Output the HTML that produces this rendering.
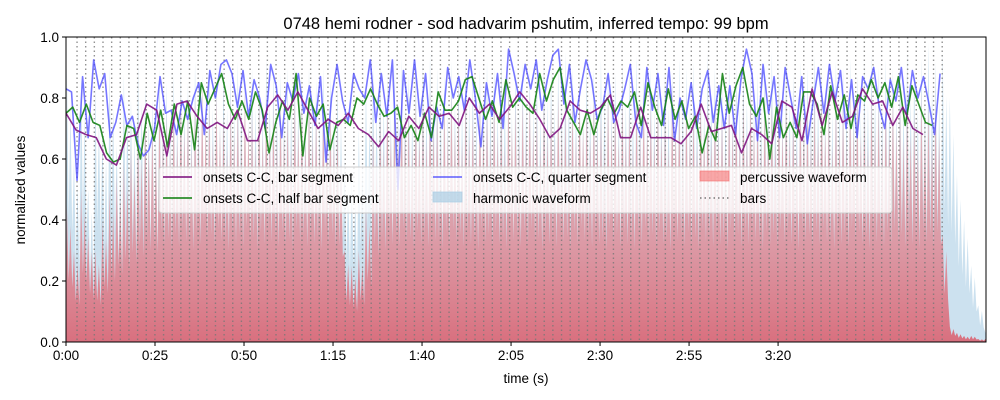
<!DOCTYPE html>
<html><head><meta charset="utf-8"><style>
body{margin:0;background:#fff;}
svg{display:block;font-family:"Liberation Sans","DejaVu Sans",sans-serif;}
</style></head><body>
<svg id="chart" width="1000" height="400" viewBox="0 0 1000 400">
<defs>
<linearGradient id="redgrad" x1="0" y1="0" x2="0" y2="1">
<stop offset="0" stop-color="rgb(248,140,140)" stop-opacity="0.45"/>
<stop offset="0.6" stop-color="rgb(230,110,120)" stop-opacity="0.6"/>
<stop offset="1" stop-color="rgb(220,80,95)" stop-opacity="0.78"/>
</linearGradient>
<clipPath id="plotclip"><rect x="66" y="37" width="920" height="305"/></clipPath>
</defs>
<text x="526" y="29" text-anchor="middle" font-size="16.5" fill="#000">0748 hemi rodner - sod hadvarim pshutim, inferred tempo: 99 bpm</text>
<g id="plot" clip-path="url(#plotclip)"></g>
<g id="axes"></g>
</svg>
<script>
const harmPeaks=[0.9,0.6,0.88,0.5,0.85,0.7,0.9,0.65,0.88,0.8,0.92,0.85,0.8,0.9,0.85,0.88,0.9,0.85,0.92,0.88,0.9,0.86,0.9,0.88,0.92,0.85,0.9,0.88,0.93,0.9,0.88,0.9,0.92,0.88,0.9,0.86,0.9,0.88,0.85,0.6,0.55,0.7,0.85,0.9,0.92,0.88,0.9,0.93,0.88,0.9,0.92,0.95,0.9,0.88,0.92,0.9,0.93,0.88,0.9,0.92,0.9,0.94,0.88,0.9,0.92,0.9,0.88,0.93,0.9,0.92,0.95,0.9,0.88,0.92,0.9,0.93,0.9,0.88,0.92,0.9,0.94,0.88,0.9,0.92,0.9,0.88,0.93,0.9,0.92,0.9,0.95,0.9,0.88,0.92,0.9,0.93,0.9,0.88,0.92,0.95,0.9,0.93,0.88,0.92,0.9,0.94,0.9,0.88,0.92,0.9,0.93,0.88,0.92,0.95,0.9,0.93,0.9,0.92,0.95,0.9,0.93,0.98,0.92,0.95,0.8,0.55,0.4,0.25,0.12,0.03];
const percPeaks=[0.45,0.3,0.5,0.35,0.3,0.4,0.5,0.55,0.6,0.65,0.7,0.75,0.72,0.8,0.75,0.78,0.82,0.75,0.8,0.85,0.78,0.82,0.75,0.8,0.78,0.83,0.76,0.8,0.82,0.78,0.8,0.75,0.82,0.78,0.8,0.76,0.8,0.78,0.7,0.3,0.25,0.3,0.45,0.7,0.75,0.8,0.78,0.82,0.75,0.8,0.78,0.83,0.76,0.8,0.82,0.78,0.8,0.75,0.82,0.78,0.8,0.76,0.83,0.78,0.8,0.82,0.75,0.8,0.78,0.82,0.76,0.8,0.83,0.78,0.8,0.75,0.82,0.78,0.8,0.76,0.8,0.82,0.78,0.8,0.75,0.83,0.78,0.8,0.76,0.82,0.78,0.8,0.75,0.82,0.78,0.8,0.83,0.76,0.8,0.78,0.82,0.8,0.75,0.83,0.78,0.8,0.82,0.76,0.8,0.78,0.83,0.8,0.76,0.82,0.78,0.8,0.82,0.78,0.8,0.76,0.82,0.78,0.8,0.35,0.05,0.03,0.02,0.02,0.01,0.01];
const barStart=3.1, barPeriod=2.43, barCount=101;
const purpleVals=[0.75,0.695,0.68,0.67,0.60,0.58,0.67,0.68,0.78,0.76,0.61,0.78,0.79,0.74,0.70,0.72,0.70,0.76,0.66,0.66,0.77,0.81,0.76,0.82,0.76,0.70,0.73,0.71,0.75,0.70,0.68,0.64,0.69,0.66,0.74,0.70,0.77,0.74,0.75,0.71,0.80,0.75,0.78,0.73,0.77,0.82,0.78,0.73,0.67,0.70,0.79,0.76,0.75,0.77,0.81,0.67,0.67,0.77,0.67,0.67,0.67,0.65,0.69,0.78,0.69,0.70,0.71,0.62,0.70,0.68,0.65,0.79,0.77,0.66,0.83,0.71,0.82,0.72,0.74,0.83,0.78,0.79,0.71,0.77,0.70,0.68];
const purpleSpan=[0,240.7];
const greenVals=[0.75,0.77,0.72,0.78,0.72,0.71,0.62,0.59,0.60,0.71,0.70,0.60,0.75,0.66,0.76,0.64,0.78,0.68,0.79,0.63,0.85,0.78,0.83,0.88,0.78,0.73,0.79,0.73,0.82,0.76,0.62,0.72,0.79,0.73,0.88,0.61,0.80,0.74,0.78,0.63,0.72,0.73,0.71,0.80,0.78,0.83,0.78,0.74,0.75,0.77,0.67,0.71,0.66,0.75,0.67,0.82,0.76,0.76,0.79,0.86,0.87,0.80,0.73,0.79,0.72,0.86,0.77,0.80,0.77,0.75,0.88,0.79,0.86,0.90,0.76,0.72,0.68,0.76,0.68,0.76,0.80,0.75,0.79,0.77,0.82,0.71,0.85,0.77,0.71,0.83,0.73,0.79,0.70,0.74,0.62,0.71,0.66,0.88,0.75,0.84,0.90,0.78,0.74,0.80,0.60,0.77,0.67,0.72,0.67,0.82,0.82,0.78,0.68,0.84,0.73,0.81,0.70,0.81,0.79,0.86,0.80,0.85,0.77,0.87,0.71,0.84,0.78,0.72,0.71];
const greenSpan=[0,243.3];
const blueVals=[0.83,0.82,0.53,0.87,0.67,0.925,0.83,0.88,0.67,0.72,0.81,0.71,0.74,0.65,0.61,0.63,0.70,0.87,0.75,0.76,0.68,0.79,0.73,0.80,0.85,0.68,0.89,0.80,0.91,0.925,0.88,0.77,0.89,0.74,0.86,0.80,0.70,0.91,0.84,0.67,0.85,0.79,0.88,0.75,0.84,0.71,0.87,0.59,0.80,0.91,0.79,0.72,0.88,0.83,0.80,0.925,0.72,0.88,0.74,0.925,0.50,0.89,0.75,0.925,0.74,0.88,0.66,0.77,0.70,0.90,0.80,0.87,0.76,0.925,0.80,0.64,0.85,0.74,0.88,0.70,0.96,0.88,0.79,0.91,0.83,0.925,0.76,0.86,0.94,0.96,0.78,0.91,0.72,0.83,0.925,0.86,0.73,0.77,0.88,0.72,0.76,0.83,0.91,0.72,0.67,0.90,0.76,0.88,0.71,0.90,0.66,0.80,0.73,0.85,0.70,0.83,0.89,0.72,0.84,0.70,0.84,0.68,0.86,0.96,0.88,0.66,0.91,0.75,0.87,0.67,0.90,0.80,0.70,0.87,0.65,0.78,0.90,0.75,0.91,0.79,0.89,0.70,0.86,0.67,0.87,0.83,0.90,0.77,0.70,0.86,0.79,0.90,0.74,0.89,0.80,0.87,0.78,0.68,0.88];
const blueSpan=[0,245.5];
const xTickSecs=[0,25,50,75,100,125,150,175,200];
const xTickLabels=["0:00","0:25","0:50","1:15","1:40","2:05","2:30","2:55","3:20"];
const yTicks=[0,0.2,0.4,0.6,0.8,1.0];
const yTickLabels=["0.0","0.2","0.4","0.6","0.8","1.0"];

const NS="http://www.w3.org/2000/svg";
const X0=66,X1=986,Y0=342,Y1=37,TMAX=258.4;
const xs=t=>X0+(t/TMAX)*(X1-X0);
const ys=v=>Y0-v*(Y0-Y1);
const plot=document.getElementById('plot'), axes=document.getElementById('axes');
function mk(tag,attrs,parent){const e=document.createElementNS(NS,tag);for(const k in attrs)e.setAttribute(k,attrs[k]);parent.appendChild(e);return e;}

function wavePath(peaks,bin){
  let d=`M${xs(0)},${ys(0)}`;
  const shape=[1,0.45,0.85,0.4];
  peaks.forEach((v,i)=>{
    for(let k=0;k<4;k++){const t=i*bin+k*bin/4+bin/8;d+=` L${xs(t).toFixed(2)},${ys(v*shape[k]).toFixed(2)}`;}
  });
  d+=` L${xs(peaks.length*bin)},${ys(0)} Z`;return d;
}
const harm=mk('path',{d:wavePath(harmPeaks,2),fill:'rgb(170,205,228)','fill-opacity':'0.6'},plot);


const perc=mk('path',{d:wavePath(percPeaks,2),fill:'url(#redgrad)'},plot);



for(let i=0;i<barCount;i++){
  const x=xs(barStart+i*barPeriod);
  const l=mk('line',{x1:x,x2:x,y1:Y1,y2:Y0,stroke:'#777','stroke-width':'1.4','stroke-dasharray':'1.5,3','stroke-opacity':'0.8'},plot);
  
  
}
function line(vals,span,color,w,name){
  const n=vals.length;
  const pts=vals.map((v,i)=>`${xs(span[0]+(span[1]-span[0])*i/(n-1)).toFixed(2)},${ys(v).toFixed(2)}`).join(' ');
  const p=mk('polyline',{points:pts,fill:'none',stroke:color,'stroke-width':w,'stroke-linejoin':'round'},plot);
  
  
}
line(blueVals,blueSpan,'rgba(60,60,255,0.7)',1.6,'quarter-segment-line');
line(greenVals,greenSpan,'rgba(20,130,20,0.9)',1.6,'half-bar-segment-line');
line(purpleVals,purpleSpan,'rgba(128,20,128,0.9)',1.6,'bar-segment-line');

const lg=mk('g',{},axes);


mk('rect',{x:159,y:167,width:733,height:46,rx:3,fill:'rgba(255,255,255,0.8)',stroke:'#ccc','stroke-width':1},lg);
const entries=[
 ['line','rgba(128,20,128,0.9)','onsets C-C, bar segment',163,181,'legend-bar-segment'],
 ['line','rgba(20,130,20,0.9)','onsets C-C, half bar segment',163,202,'legend-half-bar-segment'],
 ['line','rgba(60,60,255,0.7)','onsets C-C, quarter segment',433,181,'legend-quarter-segment'],
 ['patch','rgba(170,205,228,0.7)','harmonic waveform',433,202,'legend-harmonic-waveform'],
 ['patch','rgba(245,110,110,0.6)','percussive waveform',700,181,'legend-percussive-waveform'],
 ['dots','#777','bars',700,202,'legend-bars']];
entries.forEach(e=>{
  const g=mk('g',{},lg);
  
  
  const [type,c,txt,x,y]=e;
  if(type==='line')mk('line',{x1:x,x2:x+29,y1:y-4,y2:y-4,stroke:c,'stroke-width':1.8},g);
  else if(type==='patch')mk('rect',{x:x,y:y-10,width:29,height:10,fill:c,stroke:c},g);
  else mk('line',{x1:x,x2:x+29,y1:y-4,y2:y-4,stroke:c,'stroke-width':1.6,'stroke-dasharray':'1.5,3'},g);
  const t=mk('text',{x:x+40,y:y+1,'font-size':'13.5',fill:'#000'},g);t.textContent=txt;
});

mk('rect',{x:X0,y:Y1,width:X1-X0,height:Y0-Y1,fill:'none',stroke:'#000','stroke-width':1},axes);
xTickSecs.forEach((s,i)=>{
  const x=xs(s);
  mk('line',{x1:x,x2:x,y1:Y0,y2:Y0+4,stroke:'#000'},axes);
  const t=mk('text',{x:x,y:Y0+18,'text-anchor':'middle','font-size':'13.5'},axes);
  
  
  t.textContent=xTickLabels[i];
});
yTicks.forEach((v,i)=>{
  const y=ys(v);
  mk('line',{x1:X0-4,x2:X0,y1:y,y2:y,stroke:'#000'},axes);
  const t=mk('text',{x:X0-7,y:y+5,'text-anchor':'end','font-size':'13.5'},axes);
  
  
  t.textContent=yTickLabels[i];
});
const xl=mk('text',{x:526,y:383,'text-anchor':'middle','font-size':'13.5'},axes);


xl.textContent='time (s)';
const yl=mk('text',{x:25,y:190,'text-anchor':'middle','font-size':'13.5',transform:'rotate(-90 25 190)'},axes);


yl.textContent='normalized values';
</script>
</body></html>
